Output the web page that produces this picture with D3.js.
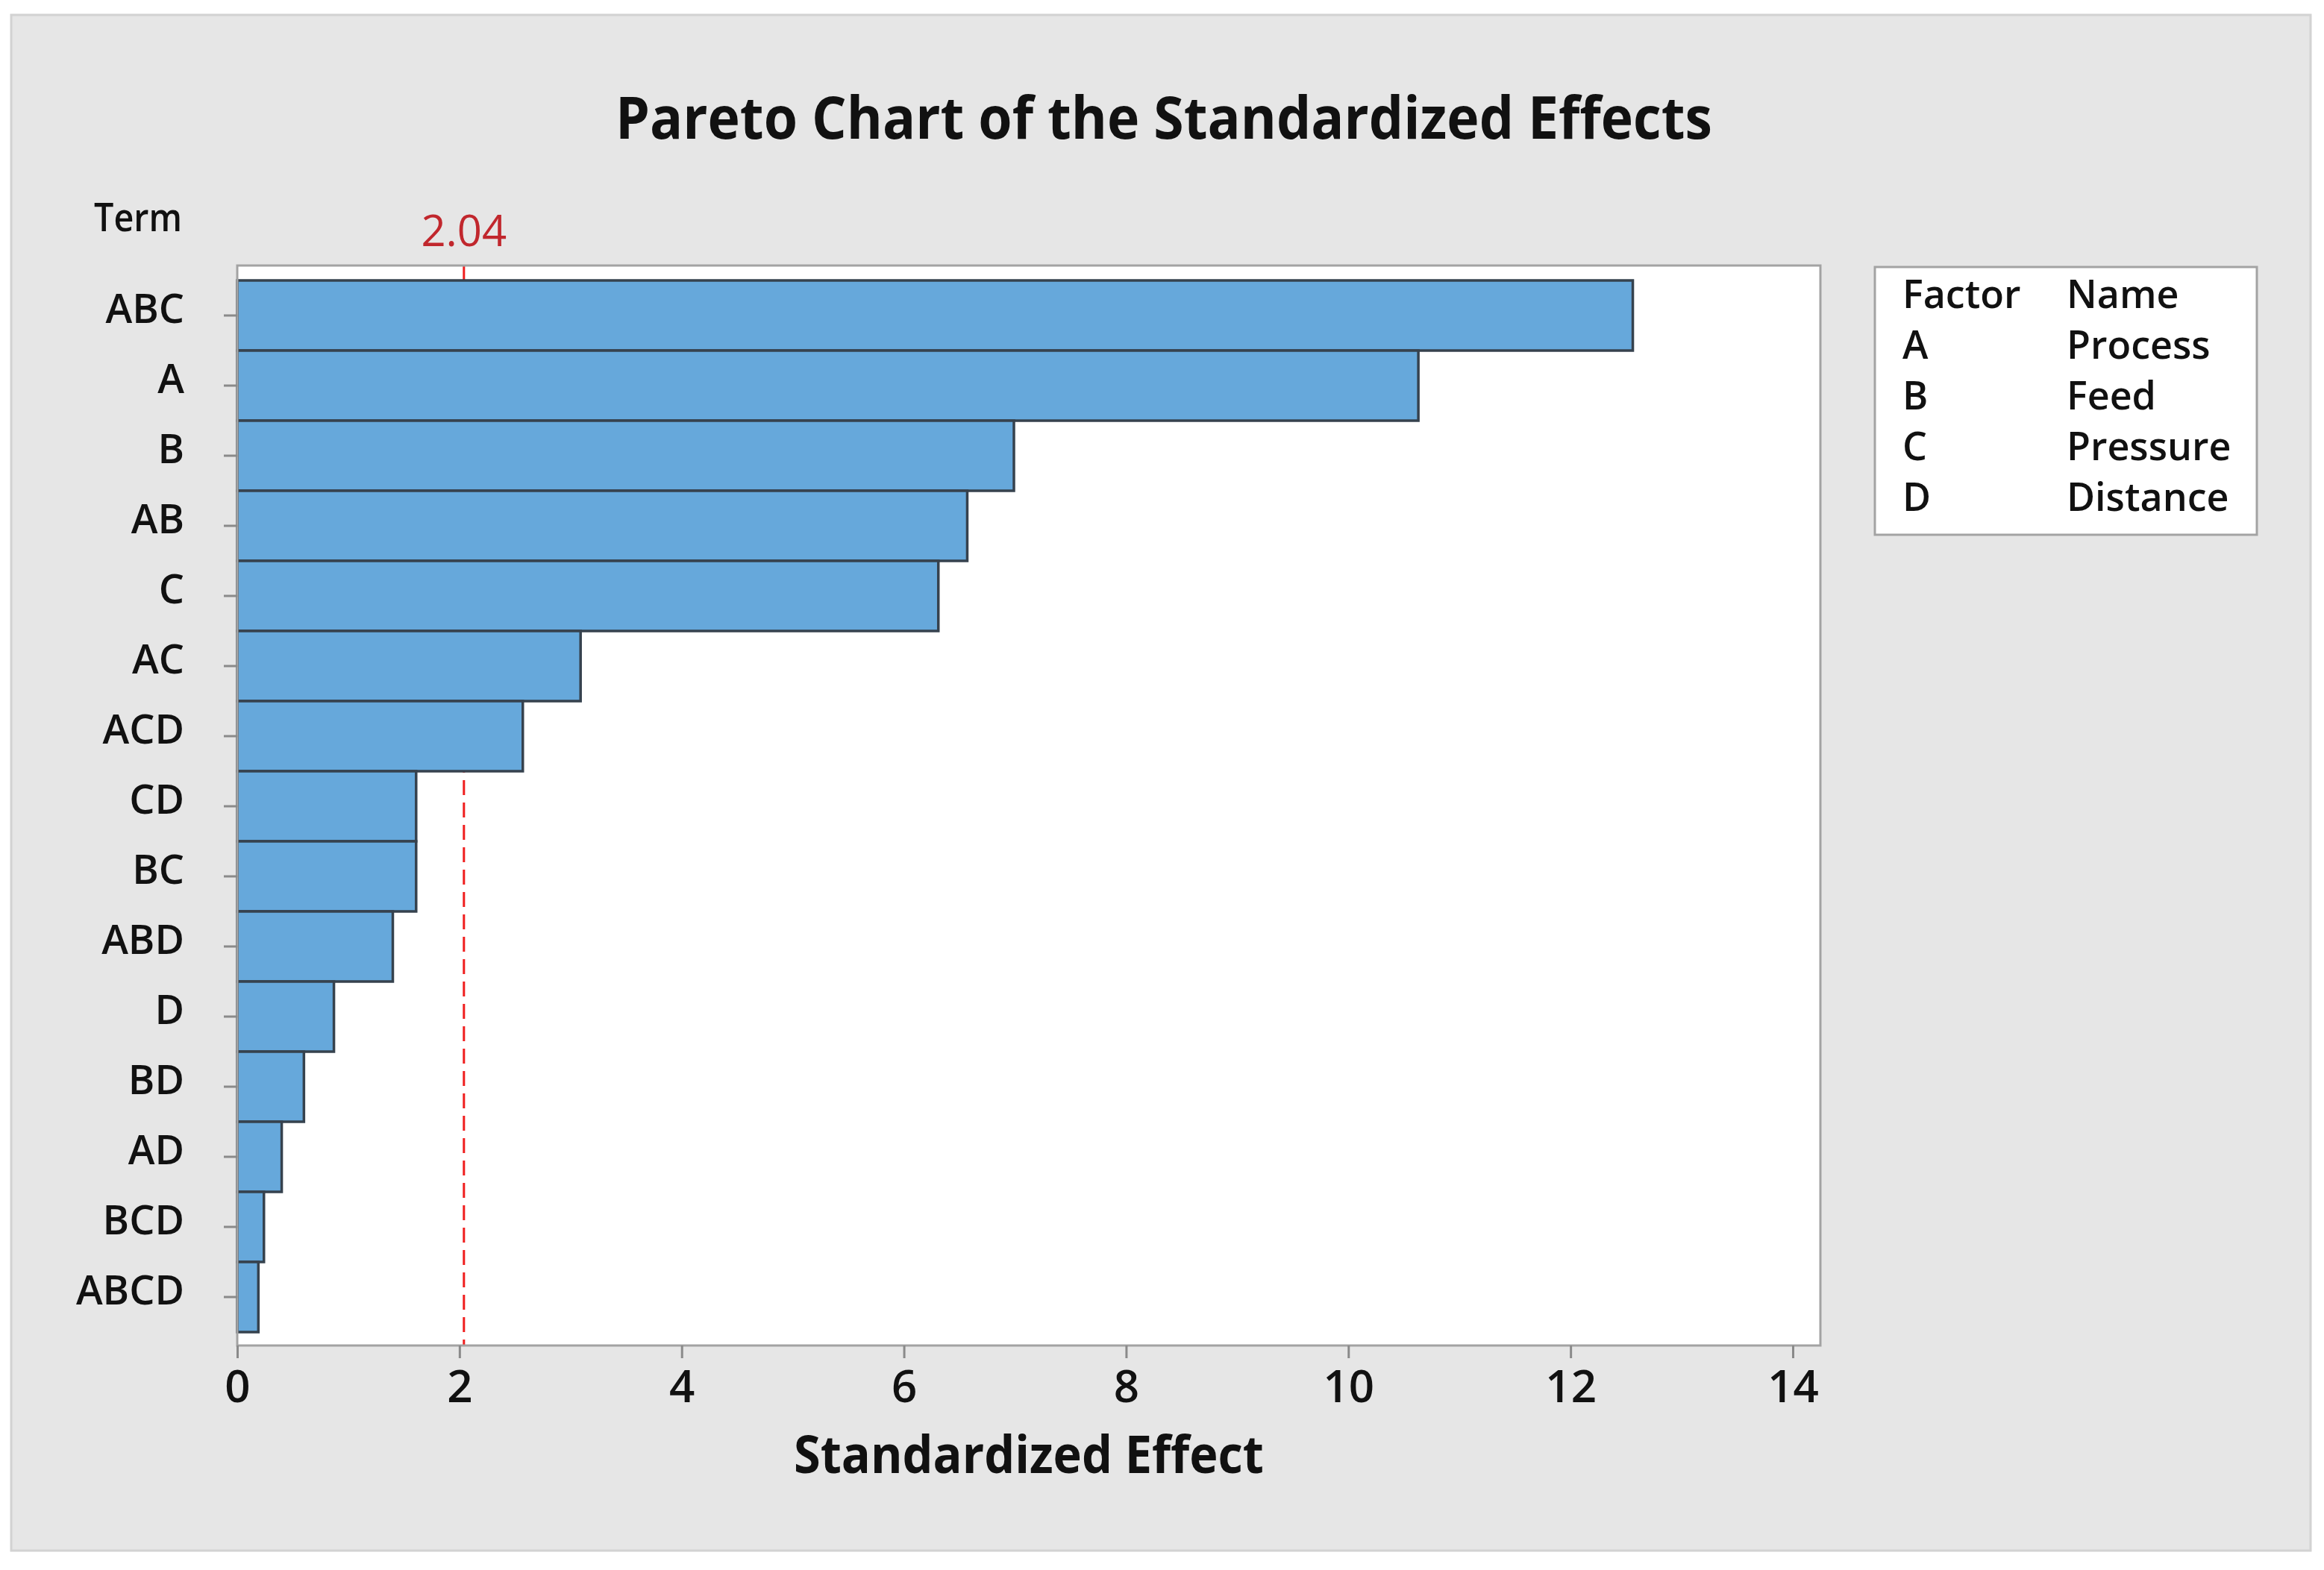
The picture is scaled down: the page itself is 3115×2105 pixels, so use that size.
<!DOCTYPE html>
<html>
<head>
<meta charset="utf-8">
<script src="https://cdn.jsdelivr.net/npm/d3@7"></script>
<style>
  body { margin: 0; background: #fff; }
  text { font-family: "Open Sans", "Noto Sans", sans-serif; fill: #111; }
</style>
</head>
<body>
<svg id="chart" width="3115" height="2105"></svg>
<script>
// terms sorted by effect, as in the chart
var terms = ["ABC", "A", "B", "AB", "C", "AC", "ACD", "CD", "BC", "ABD", "D", "BD", "AD", "BCD", "ABCD"];
var effects = [12.56, 10.63, 6.99, 6.57, 6.31, 3.09, 2.57, 1.61, 1.61, 1.40, 0.87, 0.60, 0.40, 0.24, 0.19];
var xTicks = [0, 2, 4, 6, 8, 10, 12, 14];
var critical = 2.04;
var factors = ["A", "B", "C", "D"];
var factorNames = ["Process", "Feed", "Pressure", "Distance"];

var svg = d3.select("#chart");

// gray panel
svg.append("rect")
    .attr("x", 15).attr("y", 20)
    .attr("width", 3082).attr("height", 2059)
    .style("fill", "#e6e6e6")
    .style("stroke", "#d2d2d2")
    .style("stroke-width", 3);

// plot frame
var frame = {left: 318, right: 2440, top: 356, bottom: 1804};

svg.append("rect")
    .attr("x", frame.left).attr("y", frame.top)
    .attr("width", frame.right - frame.left)
    .attr("height", frame.bottom - frame.top)
    .style("fill", "#fff");

var x = d3.scaleLinear().domain([0, 14]).range([frame.left, 2403]);
var y = d3.scaleBand().domain(terms).range([376, 1786]).padding(0);

// reference line first so the bars sit on top of it
svg.append("line")
    .attr("x1", x(critical)).attr("x2", x(critical))
    .attr("y1", frame.top).attr("y2", frame.bottom)
    .style("stroke", "#f01e1e")
    .style("stroke-width", 3)
    .style("stroke-dasharray", "20,10");

svg.append("g").selectAll("rect")
    .data(terms)
    .enter().append("rect")
    .attr("x", x(0))
    .attr("y", function(d) { return y(d); })
    .attr("width", function(d, i) { return x(effects[i]) - x(0); })
    .attr("height", y.bandwidth())
    .style("fill", "#66a8db")
    .style("stroke", "#36424e")
    .style("stroke-width", 3.5);

// frame border drawn over the bars
svg.append("rect")
    .attr("x", frame.left).attr("y", frame.top)
    .attr("width", frame.right - frame.left)
    .attr("height", frame.bottom - frame.top)
    .style("fill", "none")
    .style("stroke", "#a3a3a3")
    .style("stroke-width", 3);

// x axis
var gx = svg.append("g")
    .attr("transform", "translate(0," + frame.bottom + ")")
    .call(d3.axisBottom(x).tickValues(xTicks).tickSize(17).tickFormat(d3.format("d")));
gx.select(".domain").remove();
gx.selectAll(".tick line").style("stroke", "#8a8a8a").style("stroke-width", 3);
gx.selectAll(".tick text")
    .attr("y", 76).attr("dy", null)
    .style("font-size", "60px")
    .style("font-weight", 600)
    .style("fill", "#111");

// y axis
var gy = svg.append("g")
    .attr("transform", "translate(" + frame.left + ",0)")
    .call(d3.axisLeft(y).tickSize(18).tickPadding(53));
gy.select(".domain").remove();
gy.selectAll(".tick line").style("stroke", "#8a8a8a").style("stroke-width", 3);
gy.selectAll(".tick text")
    .attr("y", 10).attr("dy", null)
    .style("font-size", "54px")
    .style("font-weight", 600)
    .style("fill", "#111");

// titles
svg.append("text")
    .attr("x", 1560).attr("y", 186)
    .attr("text-anchor", "middle")
    .attr("textLength", 1470)
    .attr("lengthAdjust", "spacingAndGlyphs")
    .style("font-size", "78px")
    .style("font-weight", 700)
    .text("Pareto Chart of the Standardized Effects");

svg.append("text")
    .attr("x", 1379).attr("y", 1975)
    .attr("text-anchor", "middle")
    .attr("textLength", 630)
    .attr("lengthAdjust", "spacingAndGlyphs")
    .style("font-size", "70px")
    .style("font-weight", 700)
    .text("Standardized Effect");

svg.append("text")
    .attr("x", 126).attr("y", 310)
    .attr("textLength", 118)
    .attr("lengthAdjust", "spacingAndGlyphs")
    .style("font-size", "53px")
    .style("font-weight", 600)
    .text("Term");

svg.append("text")
    .attr("x", x(critical)).attr("y", 330)
    .attr("text-anchor", "middle")
    .style("font-size", "58px")
    .style("fill", "#c1272d")
    .text(critical.toFixed(2));

// factor legend
svg.append("rect")
    .attr("x", 2513).attr("y", 358)
    .attr("width", 512).attr("height", 359)
    .style("fill", "#fff")
    .style("stroke", "#a3a3a3")
    .style("stroke-width", 3);

var legendRows = [["Factor", "Name"]].concat(factors.map(function(f, i) { return [f, factorNames[i]]; }));
var lg = svg.append("g").selectAll("g")
    .data(legendRows)
    .enter().append("g")
    .attr("transform", function(d, i) { return "translate(0," + (413 + i * 68) + ")"; });
lg.append("text").attr("x", 2550).style("font-size", "52px").style("font-weight", 600).text(function(d) { return d[0]; });
lg.append("text").attr("x", 2770).style("font-size", "52px").style("font-weight", 600).text(function(d) { return d[1]; });
</script>
</body>
</html>
